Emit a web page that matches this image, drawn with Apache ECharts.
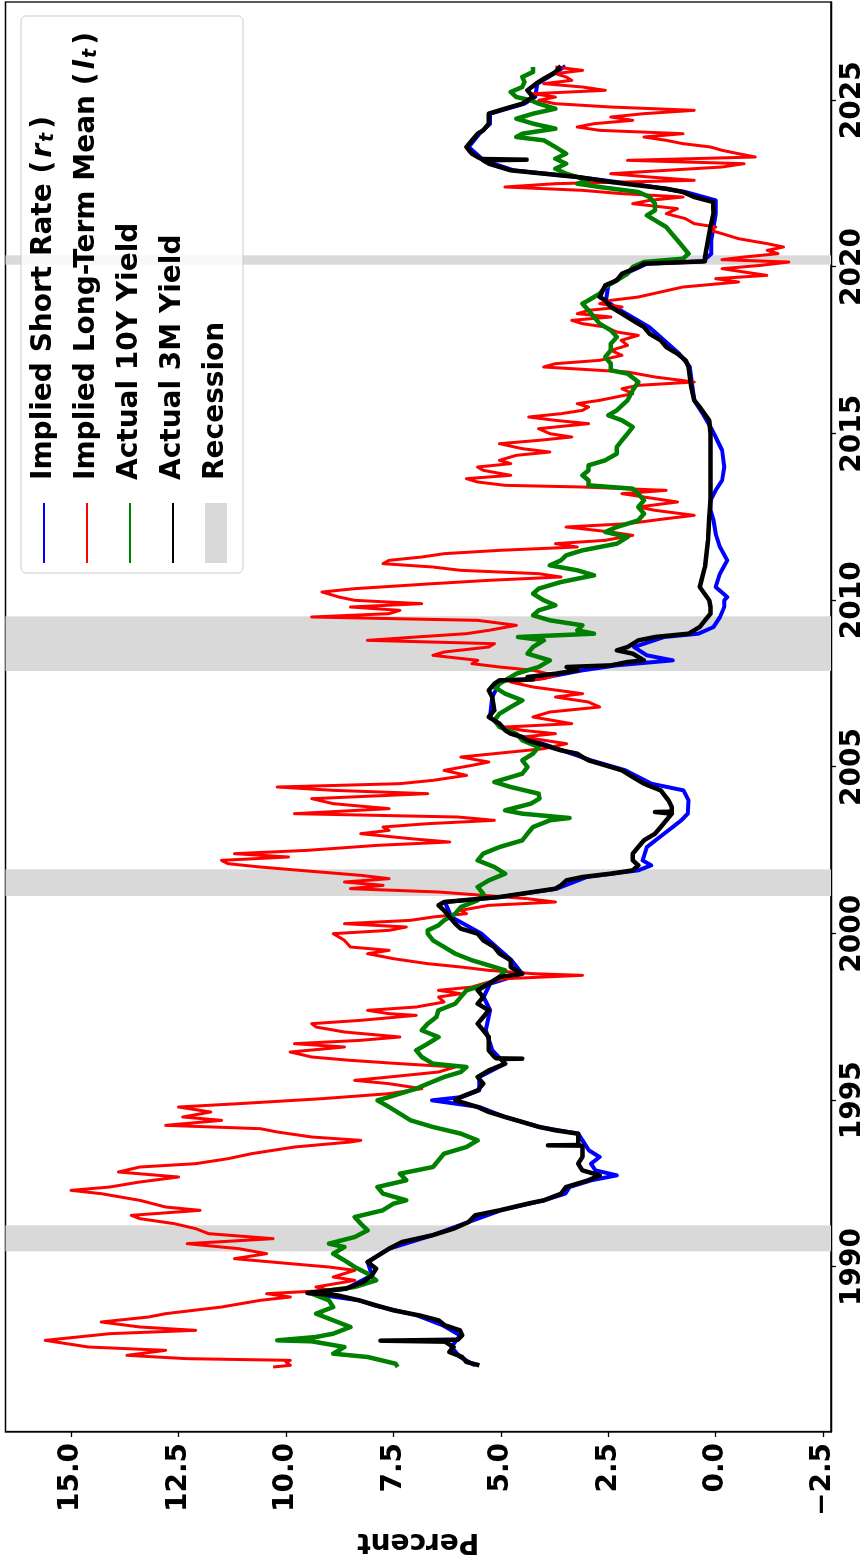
<!DOCTYPE html>
<html>
<head>
<meta charset="utf-8">
<title>Implied short rate and long-term mean</title>
<script src="https://cdn.jsdelivr.net/npm/echarts@6/dist/echarts.min.js"></script>
<style>
    html, body { margin: 0; padding: 0; background: #fff; overflow: hidden; }
    /* the figure is drawn landscape and turned a quarter anticlockwise */
    #chart {
        position: absolute; left: 0; top: 0;
        width: 1557px; height: 866px;
        transform-origin: 0 0;
        transform: translateY(1557px) rotate(-90deg);
    }
</style>
</head>
<body>
<div id="chart"></div>
<script>
"use strict";

var yearTicks = [1990, 1995, 2000, 2005, 2010, 2015, 2020, 2025];
var pctTicks = [-2.5, 0, 2.5, 5, 7.5, 10, 12.5, 15];

// recession spans, decimal years
var recessions = [[1990.47, 1991.25], [2001.13, 2001.93], [2007.88, 2009.52], [2020.07, 2020.35]];

// implied short rate r_t
var shortRate = [
    [1987.05, 5.6], [1987.3, 5.95], [1987.6, 6.15], [1987.95, 5.95], [1988.25, 6.35], [1988.55, 6.95],
    [1988.85, 7.95], [1989.0, 8.3], [1989.22, 9.5], [1989.35, 8.6], [1989.75, 8.0], [1990.15, 8.1],
    [1990.55, 7.6], [1990.95, 6.6], [1991.35, 5.75], [1991.7, 5.0], [1992.0, 4.0], [1992.2, 3.5],
    [1992.4, 3.4], [1992.6, 2.9], [1992.75, 2.3], [1992.9, 2.8], [1993.1, 2.9], [1993.3, 2.7],
    [1993.5, 2.95], [1993.8, 3.1], [1994.0, 3.2], [1994.2, 4.1], [1994.5, 4.9], [1994.8, 5.5],
    [1995.0, 6.6], [1995.1, 5.9], [1995.3, 5.5], [1995.7, 5.5], [1996.1, 4.9], [1996.5, 5.2],
    [1997.1, 5.35], [1997.7, 5.25], [1998.1, 5.4], [1998.5, 5.25], [1998.8, 4.5], [1999.2, 4.75],
    [1999.6, 5.1], [2000.0, 5.45], [2000.5, 6.15], [2000.95, 6.3], [2001.1, 5.0], [2001.35, 3.7],
    [2001.7, 3.0], [2001.9, 1.8], [2002.05, 1.5], [2002.2, 1.7], [2002.6, 1.6], [2002.8, 1.4],
    [2003.0, 1.2], [2003.2, 1.0], [2003.4, 0.8], [2003.6, 0.65], [2004.0, 0.63], [2004.3, 0.75],
    [2004.5, 1.5], [2004.9, 2.1], [2005.2, 2.9], [2005.6, 3.8], [2006.0, 4.75], [2006.5, 5.25],
    [2007.1, 5.2], [2007.6, 5.0], [2007.63, 4.2], [2007.9, 3.1], [2008.05, 2.3], [2008.2, 1.0],
    [2008.35, 1.6], [2008.6, 1.9], [2008.9, 1.2], [2009.0, 0.4], [2009.2, 0.05], [2009.5, -0.1],
    [2009.8, -0.2], [2010.0, -0.2], [2010.1, -0.27], [2010.4, 0.0], [2010.8, -0.1], [2011.2, -0.27],
    [2011.6, -0.1], [2012.0, 0.0], [2012.4, 0.05], [2012.7, 0.12], [2013.0, 0.12], [2013.3, 0.0],
    [2013.6, -0.15], [2014.0, -0.2], [2014.5, -0.15], [2014.9, 0.0], [2015.2, 0.12], [2015.6, 0.3],
    [2016.0, 0.5], [2016.5, 0.55], [2017.0, 0.6], [2017.4, 0.85], [2017.8, 1.2], [2018.2, 1.55],
    [2018.5, 1.95], [2018.8, 2.35], [2019.0, 2.55], [2019.45, 2.5], [2019.8, 2.1], [2020.1, 1.6],
    [2020.17, 0.3], [2020.4, 0.1], [2020.8, 0.1], [2021.2, 0.05], [2021.6, 0.0], [2022.0, 0.0],
    [2022.25, 0.7], [2022.45, 1.7], [2022.7, 3.2], [2022.9, 4.7], [2023.2, 5.4], [2023.6, 5.75],
    [2024.0, 5.5], [2024.3, 5.25], [2024.6, 5.25], [2024.9, 4.45], [2025.1, 4.2], [2025.5, 4.15],
    [2025.85, 3.7], [2026.03, 3.5]
];

// implied long-term mean l_t
var longTermMean = [
    [1987.0, 10.3], [1987.05, 9.9], [1987.15, 10.0], [1987.2, 9.9], [1987.25, 12.3], [1987.35, 13.7],
    [1987.5, 12.8], [1987.6, 14.6], [1987.8, 15.6], [1987.9, 14.85], [1988.0, 14.1], [1988.1, 12.1],
    [1988.2, 13.4], [1988.35, 14.3], [1988.5, 13.2], [1988.6, 12.8], [1988.8, 11.5], [1989.0, 10.6],
    [1989.1, 9.9], [1989.2, 10.45], [1989.3, 9.0], [1989.4, 9.3], [1989.6, 8.4], [1989.7, 8.9],
    [1989.9, 8.4], [1990.0, 9.0], [1990.1, 9.9], [1990.25, 11.2], [1990.4, 10.45], [1990.55, 11.1],
    [1990.7, 12.3], [1990.85, 10.3], [1991.0, 11.8], [1991.15, 12.1], [1991.3, 12.6], [1991.45, 13.4],
    [1991.55, 13.6], [1991.7, 12.0], [1991.8, 12.8], [1992.0, 13.4], [1992.2, 14.3], [1992.3, 15.0],
    [1992.4, 14.1], [1992.55, 13.4], [1992.7, 12.5], [1992.85, 13.9], [1993.0, 13.4], [1993.1, 12.1],
    [1993.25, 11.35], [1993.4, 10.8], [1993.6, 9.8], [1993.75, 8.5], [1993.8, 8.26], [1993.9, 9.4],
    [1994.05, 10.2], [1994.15, 10.6], [1994.25, 12.8], [1994.4, 11.5], [1994.5, 12.4], [1994.65, 11.75],
    [1994.8, 12.5], [1994.9, 11.1], [1995.05, 9.16], [1995.2, 7.6], [1995.35, 6.84], [1995.5, 7.6],
    [1995.6, 8.4], [1995.7, 7.6], [1995.85, 6.45], [1996.0, 6.06], [1996.1, 7.35], [1996.2, 8.5],
    [1996.3, 9.4], [1996.45, 9.9], [1996.6, 8.64], [1996.7, 9.8], [1996.8, 8.26], [1996.9, 7.35],
    [1997.05, 8.64], [1997.2, 9.3], [1997.3, 9.4], [1997.4, 8.26], [1997.55, 6.97], [1997.6, 7.6],
    [1997.7, 8.1], [1997.8, 6.97], [1997.95, 6.32], [1998.1, 6.45], [1998.2, 5.93], [1998.3, 6.45],
    [1998.4, 5.67], [1998.55, 5.28], [1998.65, 4.9], [1998.75, 3.1], [1998.8, 4.25], [1998.9, 5.28],
    [1999.0, 5.93], [1999.1, 6.7], [1999.25, 7.5], [1999.4, 8.1], [1999.5, 7.6], [1999.6, 8.5],
    [1999.8, 8.64], [2000.0, 8.9], [2000.1, 7.6], [2000.2, 7.2], [2000.3, 8.64], [2000.4, 7.1],
    [2000.5, 6.58], [2000.6, 5.8], [2000.7, 5.93], [2000.85, 5.28], [2000.95, 3.73], [2001.05, 4.38],
    [2001.15, 5.41], [2001.25, 6.45], [2001.35, 8.5], [2001.45, 7.74], [2001.55, 8.64], [2001.65, 7.6],
    [2001.75, 8.26], [2001.9, 9.68], [2002.0, 10.6], [2002.1, 11.35], [2002.2, 11.5], [2002.3, 9.94],
    [2002.4, 11.2], [2002.5, 9.5], [2002.65, 7.87], [2002.75, 6.19], [2002.85, 7.1], [2003.0, 8.26],
    [2003.1, 7.6], [2003.2, 7.74], [2003.3, 6.7], [2003.4, 5.15], [2003.5, 6.0], [2003.6, 9.8],
    [2003.75, 7.6], [2003.9, 8.9], [2004.05, 9.4], [2004.2, 6.7], [2004.3, 8.9], [2004.4, 10.2],
    [2004.5, 7.35], [2004.6, 6.58], [2004.75, 5.8], [2004.9, 6.32], [2005.05, 5.67], [2005.15, 5.28],
    [2005.3, 5.93], [2005.4, 5.15], [2005.55, 4.0], [2005.7, 3.47], [2005.9, 4.5], [2006.0, 3.73],
    [2006.1, 4.5], [2006.2, 4.9], [2006.3, 3.35], [2006.5, 4.25], [2006.65, 3.86], [2006.8, 2.7],
    [2006.95, 2.96], [2007.1, 3.73], [2007.2, 3.1], [2007.4, 4.25], [2007.55, 4.77], [2007.65, 4.0],
    [2007.75, 3.73], [2007.9, 4.25], [2008.0, 5.03], [2008.1, 5.67], [2008.2, 5.54], [2008.35, 6.58],
    [2008.45, 6.32], [2008.6, 5.28], [2008.7, 5.15], [2008.8, 8.1], [2008.9, 6.97], [2009.0, 5.8],
    [2009.1, 5.28], [2009.25, 4.64], [2009.4, 5.54], [2009.5, 9.4], [2009.6, 7.6], [2009.7, 7.35],
    [2009.8, 8.5], [2009.9, 6.84], [2010.0, 8.4], [2010.1, 8.77], [2010.25, 9.16], [2010.35, 8.4],
    [2010.5, 6.58], [2010.6, 5.28], [2010.7, 3.6], [2010.8, 4.12], [2010.9, 5.93], [2011.0, 6.58],
    [2011.1, 7.74], [2011.2, 7.6], [2011.3, 6.84], [2011.4, 6.32], [2011.5, 5.03], [2011.6, 3.22],
    [2011.7, 3.73], [2011.8, 2.57], [2011.95, 1.93], [2012.05, 2.44], [2012.2, 3.48], [2012.3, 2.05],
    [2012.45, 1.15], [2012.55, 0.5], [2012.7, 1.41], [2012.8, 1.8], [2012.95, 0.89], [2013.1, 1.67],
    [2013.2, 2.18], [2013.3, 1.15], [2013.4, 3.1], [2013.45, 4.9], [2013.55, 5.54], [2013.65, 5.8],
    [2013.75, 4.77], [2013.9, 5.41], [2014.0, 5.54], [2014.1, 4.77], [2014.2, 5.03], [2014.35, 4.64],
    [2014.45, 3.86], [2014.55, 4.5], [2014.7, 5.03], [2014.8, 4.12], [2014.9, 3.35], [2015.0, 3.86],
    [2015.15, 4.12], [2015.3, 2.96], [2015.4, 3.73], [2015.5, 4.35], [2015.6, 3.6], [2015.7, 3.1],
    [2015.8, 2.96], [2015.9, 3.22], [2016.0, 2.7], [2016.2, 1.93], [2016.35, 2.18], [2016.45, 1.8],
    [2016.55, 0.5], [2016.7, 1.41], [2016.85, 2.05], [2017.0, 4.0], [2017.1, 3.73], [2017.2, 2.7],
    [2017.35, 2.18], [2017.5, 2.44], [2017.65, 2.05], [2017.8, 2.2], [2017.95, 1.8], [2018.05, 2.3],
    [2018.2, 2.57], [2018.3, 3.1], [2018.4, 3.35], [2018.5, 2.44], [2018.6, 3.22], [2018.7, 2.96],
    [2018.8, 2.18], [2018.9, 2.7], [2019.0, 2.44], [2019.1, 1.8], [2019.25, 1.28], [2019.4, 0.76],
    [2019.55, -0.53], [2019.65, 0.0], [2019.75, -1.19], [2019.85, -0.66], [2019.95, -0.15], [2020.05, -1.05],
    [2020.15, -1.7], [2020.22, -0.15], [2020.3, -0.66], [2020.4, -1.45], [2020.5, -1.2], [2020.6, -1.58],
    [2020.7, -1.2], [2020.85, -0.53], [2021.0, -0.15], [2021.1, 0.12], [2021.2, 0.0], [2021.3, 0.5],
    [2021.45, 0.7], [2021.6, 1.15], [2021.75, 0.89], [2021.9, 1.93], [2022.0, 1.54], [2022.1, 0.76],
    [2022.2, 2.18], [2022.3, 3.1], [2022.4, 4.9], [2022.5, 3.73], [2022.6, 0.5], [2022.7, 1.54],
    [2022.8, 2.44], [2022.9, 1.15], [2023.0, -0.15], [2023.1, -0.66], [2023.2, 2.05], [2023.3, -0.92],
    [2023.4, -0.53], [2023.5, -0.15], [2023.6, 0.12], [2023.7, 0.76], [2023.8, 1.15], [2023.9, 1.67],
    [2024.0, 0.76], [2024.1, 2.7], [2024.2, 3.22], [2024.3, 2.83], [2024.4, 1.93], [2024.5, 2.44],
    [2024.6, 1.67], [2024.7, 0.5], [2024.8, 2.44], [2024.9, 3.73], [2025.0, 4.12], [2025.1, 3.73],
    [2025.2, 4.25], [2025.3, 2.57], [2025.4, 3.1], [2025.5, 4.0], [2025.6, 3.35], [2025.7, 3.48],
    [2025.8, 3.73], [2025.9, 3.1], [2026.0, 3.73]
];

// actual 10Y yield
var tenYear = [
    [1987.0, 7.4], [1987.1, 7.45], [1987.3, 8.1], [1987.4, 8.9], [1987.6, 8.64], [1987.77, 9.4],
    [1987.8, 10.2], [1987.9, 9.3], [1988.0, 8.9], [1988.2, 8.5], [1988.4, 8.9], [1988.6, 9.3],
    [1988.8, 8.9], [1989.0, 9.0], [1989.2, 9.4], [1989.3, 9.0], [1989.4, 8.4], [1989.6, 7.9],
    [1989.8, 8.1], [1990.0, 8.4], [1990.2, 8.64], [1990.4, 8.9], [1990.6, 8.64], [1990.7, 9.0],
    [1990.9, 8.4], [1991.1, 8.1], [1991.3, 8.26], [1991.5, 8.4], [1991.7, 7.75], [1991.9, 7.5],
    [1992.0, 7.2], [1992.2, 7.74], [1992.4, 7.87], [1992.6, 7.2], [1992.8, 7.35], [1993.0, 6.58],
    [1993.2, 6.45], [1993.4, 6.32], [1993.6, 5.8], [1993.8, 5.54], [1994.0, 5.93], [1994.2, 6.58],
    [1994.4, 7.1], [1994.6, 7.35], [1994.8, 7.6], [1995.0, 7.87], [1995.1, 7.6], [1995.2, 7.35],
    [1995.35, 6.97], [1995.5, 6.7], [1995.7, 6.32], [1995.85, 5.93], [1996.0, 5.8], [1996.1, 6.58],
    [1996.3, 6.84], [1996.5, 6.97], [1996.7, 6.7], [1996.9, 6.45], [1997.1, 6.84], [1997.3, 6.7],
    [1997.5, 6.5], [1997.7, 6.45], [1997.9, 6.06], [1998.1, 5.93], [1998.3, 5.8], [1998.5, 5.28],
    [1998.7, 5.03], [1998.9, 4.9], [1999.05, 5.28], [1999.2, 5.67], [1999.4, 6.06], [1999.6, 6.32],
    [1999.8, 6.58], [2000.0, 6.7], [2000.1, 6.7], [2000.25, 6.45], [2000.4, 6.32], [2000.6, 6.06],
    [2000.8, 5.93], [2001.0, 5.54], [2001.2, 5.41], [2001.4, 5.54], [2001.6, 5.28], [2001.8, 4.9],
    [2002.0, 5.15], [2002.2, 5.54], [2002.4, 5.41], [2002.6, 5.03], [2002.8, 4.5], [2003.0, 4.38],
    [2003.2, 4.25], [2003.4, 3.86], [2003.47, 3.4], [2003.6, 4.5], [2003.7, 4.9], [2003.9, 4.3],
    [2004.05, 4.1], [2004.2, 4.12], [2004.4, 4.77], [2004.55, 5.15], [2004.8, 4.5], [2005.0, 4.38],
    [2005.2, 4.5], [2005.4, 4.25], [2005.6, 4.12], [2005.8, 4.5], [2006.0, 4.64], [2006.2, 5.03],
    [2006.4, 5.15], [2006.6, 5.03], [2006.8, 4.77], [2007.0, 4.5], [2007.2, 4.9], [2007.4, 5.15],
    [2007.6, 4.9], [2007.8, 4.64], [2008.0, 4.12], [2008.2, 3.86], [2008.4, 4.38], [2008.6, 4.25],
    [2008.8, 4.0], [2008.9, 4.6], [2009.0, 2.83], [2009.1, 3.22], [2009.25, 3.1], [2009.4, 3.86],
    [2009.55, 4.25], [2009.7, 4.12], [2009.85, 3.73], [2010.0, 4.0], [2010.2, 4.25], [2010.35, 4.12],
    [2010.55, 3.6], [2010.75, 2.83], [2010.9, 3.22], [2011.05, 3.86], [2011.2, 3.6], [2011.35, 3.48],
    [2011.5, 3.1], [2011.7, 2.3], [2011.9, 2.05], [2012.05, 2.57], [2012.2, 2.3], [2012.4, 1.8],
    [2012.6, 1.67], [2012.8, 1.8], [2013.0, 1.67], [2013.2, 1.8], [2013.35, 1.93], [2013.45, 2.96],
    [2013.6, 2.96], [2013.75, 3.1], [2013.9, 2.96], [2014.05, 2.96], [2014.2, 2.57], [2014.4, 2.3],
    [2014.6, 2.3], [2014.8, 2.18], [2015.0, 2.05], [2015.2, 1.93], [2015.4, 2.18], [2015.55, 2.5],
    [2015.7, 2.3], [2016.0, 2.05], [2016.3, 1.93], [2016.55, 1.8], [2016.8, 2.05], [2016.9, 2.44],
    [2017.1, 2.44], [2017.3, 2.57], [2017.5, 2.44], [2017.7, 2.44], [2017.9, 2.3], [2018.1, 2.44],
    [2018.3, 2.7], [2018.5, 2.83], [2018.7, 2.96], [2018.9, 3.1], [2019.0, 2.96], [2019.2, 2.7],
    [2019.4, 2.57], [2019.6, 2.3], [2019.8, 2.05], [2020.0, 1.93], [2020.15, 1.67], [2020.25, 0.76],
    [2020.4, 0.63], [2020.6, 0.76], [2020.8, 0.89], [2021.0, 1.02], [2021.2, 1.15], [2021.4, 1.41],
    [2021.55, 1.6], [2021.7, 1.41], [2021.9, 1.41], [2022.1, 1.54], [2022.25, 1.8], [2022.4, 2.7],
    [2022.5, 3.22], [2022.6, 2.96], [2022.8, 3.48], [2022.95, 3.73], [2023.1, 3.48], [2023.25, 3.73],
    [2023.4, 3.48], [2023.6, 3.73], [2023.8, 4.0], [2023.9, 4.64], [2024.0, 4.5], [2024.15, 3.73],
    [2024.3, 4.25], [2024.45, 4.64], [2024.6, 4.25], [2024.75, 3.73], [2024.9, 4.12], [2025.0, 4.3],
    [2025.1, 4.64], [2025.25, 4.77], [2025.4, 4.5], [2025.55, 4.45], [2025.7, 4.5], [2025.85, 4.25],
    [2026.0, 4.25]
];

// actual 3M yield
var threeMonth = [
    [1987.05, 5.5], [1987.15, 5.8], [1987.3, 5.9], [1987.45, 6.2], [1987.6, 6.1], [1987.76, 6.3],
    [1987.79, 7.8], [1987.82, 6.0], [1987.95, 5.9], [1988.1, 5.95], [1988.25, 6.3], [1988.4, 6.45],
    [1988.55, 6.9], [1988.7, 7.5], [1988.85, 7.9], [1989.0, 8.3], [1989.15, 8.8], [1989.22, 9.5],
    [1989.35, 8.6], [1989.55, 8.2], [1989.75, 8.0], [1989.95, 7.9], [1990.15, 8.1], [1990.35, 7.85],
    [1990.55, 7.6], [1990.75, 7.3], [1990.95, 6.6], [1991.15, 6.1], [1991.35, 5.75], [1991.55, 5.6],
    [1991.7, 5.03], [1991.9, 4.38], [1992.0, 4.0], [1992.2, 3.6], [1992.4, 3.48], [1992.6, 2.97],
    [1992.75, 2.7], [1992.9, 3.1], [1993.1, 3.2], [1993.3, 3.1], [1993.5, 3.1], [1993.64, 3.1],
    [1993.65, 3.9], [1993.66, 3.2], [1993.8, 3.2], [1994.0, 3.2], [1994.1, 3.73], [1994.2, 4.1],
    [1994.35, 4.5], [1994.5, 4.9], [1994.65, 5.28], [1994.8, 5.54], [1995.0, 6.06], [1995.1, 5.93],
    [1995.3, 5.54], [1995.5, 5.41], [1995.7, 5.54], [1995.9, 5.28], [1996.1, 4.9], [1996.24, 5.0],
    [1996.25, 4.5], [1996.26, 5.1], [1996.3, 5.15], [1996.5, 5.28], [1996.9, 5.28], [1997.1, 5.41],
    [1997.3, 5.54], [1997.5, 5.41], [1997.7, 5.28], [1997.9, 5.54], [1998.1, 5.41], [1998.3, 5.54],
    [1998.5, 5.28], [1998.7, 5.03], [1998.8, 4.5], [1999.0, 4.77], [1999.2, 4.77], [1999.4, 5.03],
    [1999.6, 5.15], [1999.8, 5.41], [2000.0, 5.54], [2000.15, 5.93], [2000.3, 6.06], [2000.5, 6.19],
    [2000.7, 6.32], [2000.85, 6.45], [2000.95, 6.32], [2001.1, 5.03], [2001.25, 4.25], [2001.35, 3.73],
    [2001.45, 3.6], [2001.6, 3.47], [2001.7, 3.1], [2001.8, 2.45], [2001.9, 1.93], [2002.05, 1.8],
    [2002.2, 1.93], [2002.4, 1.93], [2002.6, 1.8], [2002.8, 1.67], [2003.0, 1.41], [2003.2, 1.28],
    [2003.4, 1.15], [2003.6, 1.02], [2003.64, 1.02], [2003.65, 1.41], [2003.66, 1.02], [2003.8, 1.02],
    [2004.0, 1.1], [2004.3, 1.28], [2004.5, 1.67], [2004.7, 1.93], [2004.9, 2.18], [2005.0, 2.44],
    [2005.1, 2.7], [2005.2, 2.96], [2005.3, 3.1], [2005.4, 3.22], [2005.5, 3.6], [2005.6, 3.86],
    [2005.7, 4.12], [2005.8, 4.38], [2005.9, 4.5], [2006.0, 4.77], [2006.1, 4.9], [2006.3, 5.03],
    [2006.5, 5.28], [2006.7, 5.15], [2007.1, 5.2], [2007.3, 5.28], [2007.5, 5.15], [2007.6, 5.03],
    [2007.63, 4.25], [2007.7, 4.38], [2007.8, 3.73], [2007.9, 3.22], [2008.0, 3.47], [2008.05, 2.44],
    [2008.15, 2.05], [2008.2, 1.67], [2008.3, 1.8], [2008.4, 1.93], [2008.5, 2.3], [2008.6, 2.05],
    [2008.8, 1.8], [2008.9, 1.41], [2009.0, 0.63], [2009.1, 0.5], [2009.2, 0.37], [2009.4, 0.25],
    [2009.6, 0.12], [2009.8, 0.12], [2010.0, 0.15], [2010.4, 0.37], [2011.0, 0.25], [2011.8, 0.18],
    [2012.5, 0.15], [2013.0, 0.12], [2014.0, 0.12], [2015.0, 0.12], [2015.4, 0.15], [2015.8, 0.37],
    [2016.0, 0.5], [2016.4, 0.57], [2017.0, 0.63], [2017.2, 0.7], [2017.4, 0.89], [2017.6, 1.15],
    [2017.8, 1.28], [2018.0, 1.54], [2018.2, 1.67], [2018.4, 1.93], [2018.6, 2.18], [2018.8, 2.44],
    [2019.0, 2.57], [2019.1, 2.7], [2019.45, 2.57], [2019.6, 2.3], [2019.8, 2.18], [2020.0, 1.8],
    [2020.1, 1.67], [2020.17, 0.25], [2020.3, 0.25], [2020.8, 0.18], [2021.2, 0.12], [2021.6, 0.05],
    [2021.95, 0.06], [2022.1, 0.5], [2022.25, 0.76], [2022.35, 1.15], [2022.45, 1.8], [2022.55, 2.44],
    [2022.7, 3.22], [2022.8, 4.0], [2022.9, 4.77], [2023.0, 5.03], [2023.1, 5.28], [2023.2, 5.41],
    [2023.22, 4.4], [2023.24, 5.45], [2023.3, 5.54], [2023.4, 5.67], [2023.5, 5.74], [2023.6, 5.8],
    [2023.8, 5.67], [2024.0, 5.54], [2024.1, 5.41], [2024.3, 5.28], [2024.6, 5.28], [2024.7, 5.03],
    [2024.8, 4.77], [2024.9, 4.5], [2025.0, 4.38], [2025.1, 4.25], [2025.3, 4.38], [2025.5, 4.18],
    [2025.65, 4.0], [2025.75, 3.86], [2025.85, 3.73], [2026.03, 3.6]
];

var FONT = 'DejaVu Sans';
var lineIcon = 'path://M0 0H60V2H0Z';

var legendText = {
    'Implied Short Rate': '{n|Implied Short Rate (}{i|r}{s|t}{n|)}',
    'Implied Long-Term Mean': '{n|Implied Long-Term Mean (}{i|l}{s|t}{n|)}',
    'Actual 10Y Yield': '{n|Actual 10Y Yield}',
    'Actual 3M Yield': '{n|Actual 3M Yield}',
    'Recession': '{n|Recession}'
};

function fmtPct(v) {
    var s = Math.abs(v).toFixed(1);
    return v < 0 ? '\u2212' + s : s;
}

function lineSeries(name, data, color, width) {
    return {
        name: name,
        type: 'line',
        data: data,
        showSymbol: false,
        symbol: 'none',
        silent: true,
        itemStyle: {color: color},
        lineStyle: {color: color, width: width, join: 'round'}
    };
}

var chart = echarts.init(document.getElementById('chart'), null, {renderer: 'canvas'});

var option = {
    animation: false,
    backgroundColor: '#fff',
    grid: {
        left: 125, right: 2, top: 5.5, bottom: 35,
        show: true, borderColor: '#000', borderWidth: 1.3,
        containLabel: false, outerBoundsMode: 'none'
    },
    xAxis: {
        type: 'value',
        min: 1985.05, max: 2027.95,
        axisLine: {show: true, onZero: false, lineStyle: {color: '#000', width: 1.3}},
        axisTick: {show: true, customValues: yearTicks, length: 5, lineStyle: {color: '#000', width: 1.3}},
        axisLabel: {
            customValues: yearTicks, margin: 8,
            fontFamily: FONT, fontWeight: 'bold', fontSize: 28, color: '#000',
            formatter: function (v) { return String(Math.round(v)); }
        },
        splitLine: {show: false}
    },
    yAxis: {
        type: 'value',
        min: -2.684, max: 16.527,
        name: 'Percent', nameLocation: 'middle', nameRotate: 90, nameGap: 93,
        nameTextStyle: {fontFamily: FONT, fontWeight: 'bold', fontSize: 28, color: '#000'},
        axisLine: {show: true, onZero: false, lineStyle: {color: '#000', width: 1.3}},
        axisTick: {show: true, customValues: pctTicks, length: 5, lineStyle: {color: '#000', width: 1.3}},
        axisLabel: {
            customValues: pctTicks, margin: 11,
            fontFamily: FONT, fontWeight: 'bold', fontSize: 28, color: '#000',
            formatter: fmtPct
        },
        splitLine: {show: false}
    },
    legend: {
        orient: 'vertical',
        right: 16, top: 21,
        itemWidth: 60, itemHeight: 22, itemGap: 15,
        padding: [9, 16, 13, 10],
        backgroundColor: 'rgba(255,255,255,0.8)',
        borderColor: '#cccccc', borderWidth: 1, borderRadius: 5,
        selectedMode: false,
        data: [
            {name: 'Implied Short Rate', icon: lineIcon, itemStyle: {color: '#0000ff'}},
            {name: 'Implied Long-Term Mean', icon: lineIcon, itemStyle: {color: '#ff0000'}},
            {name: 'Actual 10Y Yield', icon: lineIcon, itemStyle: {color: '#008000'}},
            {name: 'Actual 3M Yield', icon: lineIcon, itemStyle: {color: '#000000'}},
            {name: 'Recession', icon: 'rect', itemStyle: {color: '#d9d9d9'}}
        ],
        formatter: function (name) { return legendText[name]; },
        textStyle: {
            fontFamily: FONT, fontWeight: 'bold', fontSize: 28, color: '#000',
            lineHeight: 28, padding: [0, 0, 0, 18],
            rich: {
                n: {fontFamily: FONT, fontWeight: 'bold', fontSize: 28, lineHeight: 28, color: '#000'},
                i: {fontFamily: FONT, fontWeight: 'bold', fontStyle: 'italic', fontSize: 28, lineHeight: 28,
                    padding: [0, 2, 0, 3], color: '#000'},
                s: {fontFamily: FONT, fontWeight: 'bold', fontStyle: 'italic', fontSize: 19, lineHeight: 14,
                    padding: [0, 4, 0, 0], verticalAlign: 'bottom', color: '#000'}
            }
        }
    },
    series: [
        {
            name: 'Recession',
            type: 'line',
            data: [],
            itemStyle: {color: '#d9d9d9'},
            markArea: {
                silent: true,
                itemStyle: {color: '#d9d9d9', opacity: 1},
                label: {show: false},
                data: recessions.map(function (r) { return [{xAxis: r[0]}, {xAxis: r[1]}]; })
            }
        },
        lineSeries('Implied Short Rate', shortRate, '#0000ff', 4),
        lineSeries('Implied Long-Term Mean', longTermMean, '#ff0000', 3),
        lineSeries('Actual 10Y Yield', tenYear, '#008000', 4.5),
        lineSeries('Actual 3M Yield', threeMonth, '#000000', 4.5)
    ]
};

chart.setOption(option);
</script>
</body>
</html>
